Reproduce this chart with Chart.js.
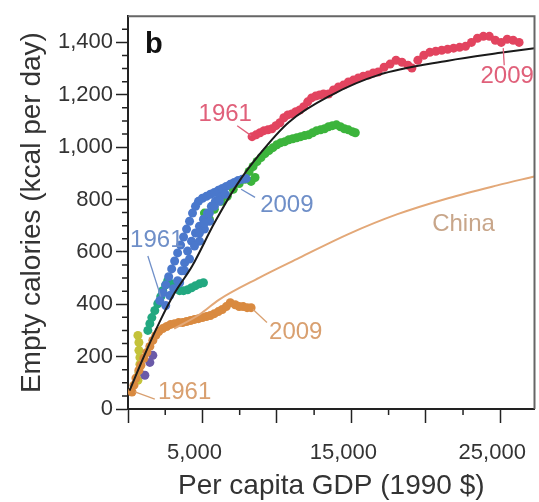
<!DOCTYPE html>
<html>
<head>
<meta charset="utf-8">
<script src="https://cdn.jsdelivr.net/npm/chart.js@4"></script>
<style>
  body { margin: 0; background: #fff; }
  canvas { display: block; }
</style>
</head>
<body>
<canvas id="myChart" width="539" height="502"></canvas>
<script>
// fitted curve (all countries) and China curve
const fitX = [100, 1100, 2100, 3100, 4300, 5800, 7300, 8800, 10800, 13700, 16800, 21500, 25000, 27300];
const fitY = [70, 205, 330, 440, 545, 710, 855, 970, 1095, 1200, 1275, 1330, 1360, 1378];
const chinaLineX = [3100, 4800, 6100, 8800, 11500, 14800, 18100, 21500, 24800, 27300];
const chinaLineY = [307, 361, 417, 501, 577, 668, 744, 805, 854, 888];

// country series, 1961..2009
const redX = [8333, 8600, 8867, 9133, 9400, 9667, 9933, 10200, 10467, 10733, 11000, 11267, 11533, 11800, 12067, 12333, 12600, 12867, 13133, 13467, 13800, 14133, 14467, 14800, 15133, 15467, 15800, 16133, 16467, 16800, 17200, 17600, 18000, 18400, 18800, 19067, 19467, 19867, 20267, 20667, 21067, 21467, 21867, 22267, 22667, 23067, 23467, 23867, 24267, 24667, 25067, 25467, 25867, 26267];
const redY = [1040, 1047, 1055, 1063, 1066, 1070, 1082, 1093, 1112, 1123, 1127, 1135, 1142, 1154, 1173, 1188, 1195, 1199, 1203, 1203, 1218, 1230, 1237, 1249, 1256, 1264, 1271, 1275, 1283, 1287, 1305, 1317, 1332, 1324, 1313, 1302, 1332, 1351, 1362, 1366, 1370, 1374, 1378, 1381, 1385, 1400, 1416, 1423, 1423, 1408, 1400, 1412, 1408, 1400];

const greenX = [5133, 5467, 5800, 6267, 6667, 7067, 7467, 7867, 8267, 8533, 8133, 8400, 8667, 8933, 9200, 9467, 9733, 10000, 10267, 10533, 10800, 11067, 11333, 11600, 11867, 12133, 12400, 12667, 12933, 13200, 13467, 13733, 14000, 14267, 14533, 14800, 15067, 15267];
const greenY = [748, 725, 763, 793, 812, 839, 861, 877, 869, 884, 907, 926, 945, 960, 975, 987, 998, 1009, 1017, 1021, 1028, 1032, 1036, 1040, 1044, 1047, 1055, 1063, 1066, 1070, 1078, 1082, 1085, 1078, 1070, 1066, 1059, 1055];

const blueX = [2133, 2333, 2533, 2733, 2933, 3133, 3333, 3533, 3733, 3933, 4133, 4333, 4533, 4733, 5000, 5267, 5533, 5800, 6067, 6333, 6600, 6867, 7133, 7400, 7667, 7933, 4267, 4533, 4800, 5067, 5333, 5600, 5867, 6133, 4800, 5133, 5467, 4000, 3800, 3600, 3333, 3067, 2800, 2533, 4467, 4800, 5133, 5467, 4133, 3800, 3467, 5800, 6133, 6533];
const blueY = [414, 444, 474, 505, 535, 565, 596, 626, 657, 687, 717, 748, 774, 793, 805, 812, 820, 827, 835, 842, 850, 858, 865, 873, 877, 880, 641, 672, 698, 725, 748, 774, 793, 805, 641, 687, 717, 603, 558, 528, 490, 459, 433, 395, 622, 672, 710, 748, 573, 528, 482, 774, 793, 820];

const tealX = [1333, 1467, 1600, 1800, 2000, 2200, 2333, 2533, 2667, 2933, 3200, 3467, 3733, 4000, 4267, 4533, 4800, 5067];
const tealY = [300, 326, 349, 376, 402, 429, 452, 474, 490, 478, 459, 452, 452, 455, 463, 471, 478, 482];

const chinaX = [267, 400, 533, 733, 867, 1067, 1267, 1467, 1667, 1867, 2067, 2333, 2600, 2867, 3133, 3400, 3667, 3933, 4200, 4467, 4733, 5000, 5267, 5533, 5800, 6067, 6333, 6600, 6867, 7200, 7467, 7733, 8000, 8267];
const chinaY = [65, 91, 118, 148, 167, 194, 216, 239, 262, 281, 296, 307, 315, 323, 326, 330, 330, 334, 338, 342, 345, 349, 353, 357, 364, 372, 380, 391, 406, 398, 391, 391, 387, 387];

const yellowX = [667, 733, 733, 800, 800, 733, 667];
const yellowY = [281, 254, 224, 197, 171, 140, 110];
const purpleX = [1133, 1467, 1667];
const purpleY = [129, 178, 205];

const xTicks = [0, 5000, 10000, 15000, 20000, 25000];
const xTickLabels = [5000, 15000, 25000];
const yTicks = [0, 200, 400, 600, 800, 1000, 1200, 1400];

const pts = (xs, ys) => xs.map((v, i) => ({ x: v, y: ys[i] }));
const FONT = "'Liberation Sans', Arial, sans-serif";

// text labels on the plot, in data units
const notes = [
    { text: 'b', x: 1733, y: 1389, color: '#111', font: 'bold 29px ' + FONT },
    { text: '1961', x: 6533, y: 1127, color: '#e0607a', line: [7333, 1082, 8267, 1044] },
    { text: '2009', x: 25467, y: 1271, color: '#e0607a', line: [25267, 1313, 25200, 1378] },
    { text: '1961', x: 1933, y: 645, color: '#6f8fc8', line: [1333, 584, 2200, 429] },
    { text: '2009', x: 10667, y: 778, color: '#6f8fc8', line: [7600, 839, 8533, 808] },
    { text: 'China', x: 22533, y: 706, color: '#c8a68a' },
    { text: '2009', x: 11267, y: 292, color: '#d9a070', line: [8400, 380, 9333, 330] },
    { text: '1961', x: 3800, y: 65, color: '#d9a070', line: [467, 65, 1800, 38] },
];

const extras = {
    id: 'extras',
    afterDraw(chart) {
        const { ctx, scales: { x, y }, chartArea: a } = chart;
        ctx.save();
        // top and right frame
        ctx.strokeStyle = '#666';
        ctx.lineWidth = 2;
        ctx.beginPath();
        ctx.moveTo(a.left, a.top);
        ctx.lineTo(a.right, a.top);
        ctx.lineTo(a.right, a.bottom);
        ctx.stroke();
        // minor ticks
        ctx.strokeStyle = '#222';
        ctx.lineWidth = 1.5;
        ctx.beginPath();
        for (let v = 2500; v < x.max; v += 5000) {
            const px = x.getPixelForValue(v);
            ctx.moveTo(px, a.bottom);
            ctx.lineTo(px, a.bottom + 6);
        }
        for (let v = 50; v < y.max; v += 50) {
            if (v % 200 === 0) continue;
            const py = y.getPixelForValue(v);
            ctx.moveTo(a.left - 6, py);
            ctx.lineTo(a.left, py);
        }
        ctx.stroke();
        // labels + leader lines
        ctx.textAlign = 'center';
        ctx.textBaseline = 'middle';
        notes.forEach(n => {
            ctx.fillStyle = n.color;
            ctx.font = n.font || '24px ' + FONT;
            ctx.fillText(n.text, x.getPixelForValue(n.x), y.getPixelForValue(n.y));
            if (n.line) {
                ctx.strokeStyle = n.color;
                ctx.lineWidth = 1.3;
                ctx.beginPath();
                ctx.moveTo(x.getPixelForValue(n.line[0]), y.getPixelForValue(n.line[1]));
                ctx.lineTo(x.getPixelForValue(n.line[2]), y.getPixelForValue(n.line[3]));
                ctx.stroke();
            }
        });
        ctx.restore();
    }
};

const dots = (data, color, order) => ({
    type: 'scatter', data, order,
    backgroundColor: color, borderWidth: 0, pointRadius: 4.5, pointHoverRadius: 4.5
});

new Chart(document.getElementById('myChart'), {
    type: 'scatter',
    data: {
        datasets: [
            {
                type: 'line', data: pts(fitX, fitY), order: 0,
                borderColor: '#1a1a1a', borderWidth: 2, pointRadius: 0, cubicInterpolationMode: 'monotone', fill: false
            },
            {
                type: 'line', data: pts(chinaLineX, chinaLineY), order: 1,
                borderColor: '#e3a878', borderWidth: 2, pointRadius: 0, cubicInterpolationMode: 'monotone', fill: false
            },
            dots(pts(redX, redY), '#e2445f', 5),
            dots(pts(greenX, greenY), '#3cb43c', 4),
            dots(pts(blueX, blueY), '#4a78cc', 3),
            dots(pts(tealX, tealY), '#22a880', 6),
            dots(pts(purpleX, purpleY), '#6a5aa8', 7),
            dots(pts(yellowX, yellowY), '#c4c23a', 8),
            dots(pts(chinaX, chinaY), '#d98a40', 2),
        ]
    },
    options: {
        responsive: false,
        animation: false,
        devicePixelRatio: 1,
        layout: { padding: { top: 14, right: 2, left: 0, bottom: 0 } },
        plugins: { legend: { display: false }, tooltip: { enabled: false } },
        scales: {
            x: {
                type: 'linear', min: 0, max: 27300,
                afterFit: s => { s.height = 93; s.paddingLeft = 0; s.paddingRight = 0; },
                afterBuildTicks: s => { s.ticks = xTicks.map(v => ({ value: v })); },
                ticks: {
                    autoSkip: false, maxRotation: 0, labelOffset: -8,
                    color: '#333', font: { family: FONT, size: 22 }, padding: 17,
                    callback: v => xTickLabels.includes(v) ? v.toLocaleString('en-US') : ''
                },
                grid: { drawOnChartArea: false, tickLength: 14, tickColor: '#222', tickWidth: 1.5 },
                border: { display: true, color: '#222', width: 2 },
                title: {
                    display: true, text: 'Per capita GDP (1990 $)', color: '#333',
                    font: { family: FONT, size: 28, lineHeight: 1.1 }, padding: { top: 0, bottom: 0 }
                }
            },
            y: {
                min: 0, max: 1500,
                afterFit: s => { s.width = 128; },
                afterBuildTicks: s => { s.ticks = yTicks.map(v => ({ value: v })); },
                ticks: {
                    autoSkip: false,
                    color: '#333', font: { family: FONT, size: 22 }, padding: 3,
                    callback: v => v.toLocaleString('en-US')
                },
                grid: { drawOnChartArea: false, tickLength: 12, tickColor: '#222', tickWidth: 1.5 },
                border: { display: true, color: '#222', width: 2 },
                title: {
                    display: true, text: 'Empty calories (kcal per day)', color: '#333',
                    font: { family: FONT, size: 28, lineHeight: 1.1 }, padding: { top: 17, bottom: 0 }
                }
            }
        }
    },
    plugins: [extras]
});
</script>
</body>
</html>
